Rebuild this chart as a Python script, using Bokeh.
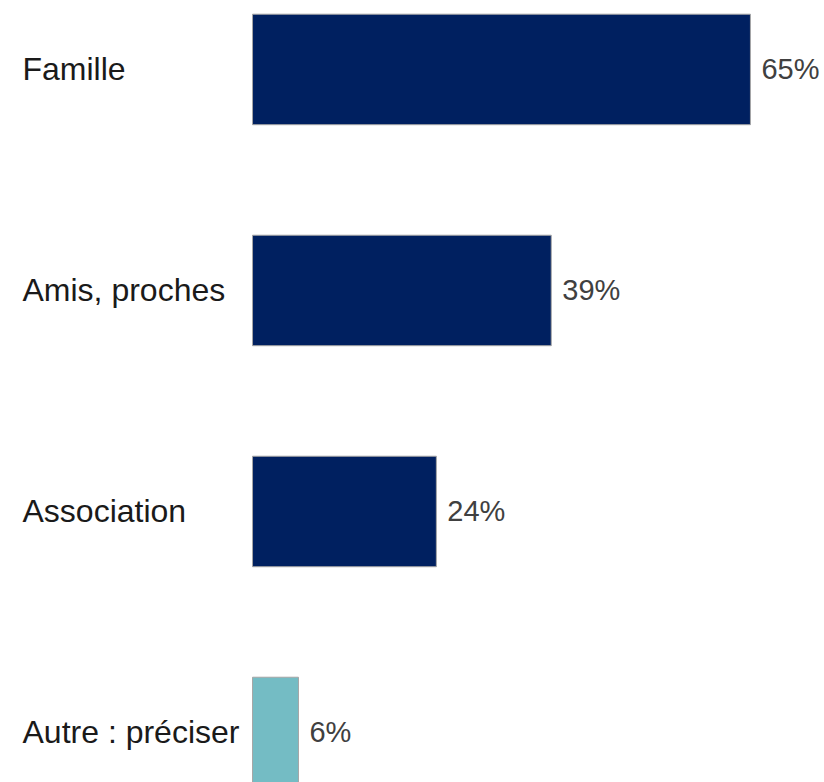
from bokeh.plotting import figure
from bokeh.models import ColumnDataSource, Range1d
from bokeh.core.properties import value
from bokeh.embed import file_html
from bokeh.resources import INLINE

categories = ["Famille", "Amis, proches", "Association", "Autre : préciser"]
values = [65, 39, 24, 6]
colors = ["#002060", "#002060", "#002060", "#74BCC4"]
labels = [f"{v}%" for v in values]

n = len(categories)
ypos = [n - 1 - i for i in range(n)]
x_start, x_end = -32.9, 74.67

src = ColumnDataSource(dict(y=ypos, val=values, color=colors, lab=labels,
                            cat=categories, x0=[x_start] * n))

p = figure(width=824, height=782, output_backend="svg", toolbar_location=None,
           y_range=Range1d(-0.2263, 3.312), x_range=Range1d(x_start, x_end),
           min_border=0)
p.axis.visible = False
p.grid.visible = False
p.outline_line_color = None

p.hbar(y="y", right="val", left=0, height=0.5, fill_color="color",
       line_color="#A6A6A6", line_width=1, source=src)

p.text(x="val", y="y", text="lab", source=src, x_offset=11,
       text_baseline="middle", text_align="left",
       text_font=value("Liberation Sans"), text_font_size="29px", text_color="#404040")

p.text(x="x0", y="y", text="cat", source=src, x_offset=22,
       text_baseline="middle", text_align="left",
       text_font=value("Liberation Sans"), text_font_size="32px", text_color="#1A1A1A")

open("out.html", "w").write(file_html(p, INLINE))
